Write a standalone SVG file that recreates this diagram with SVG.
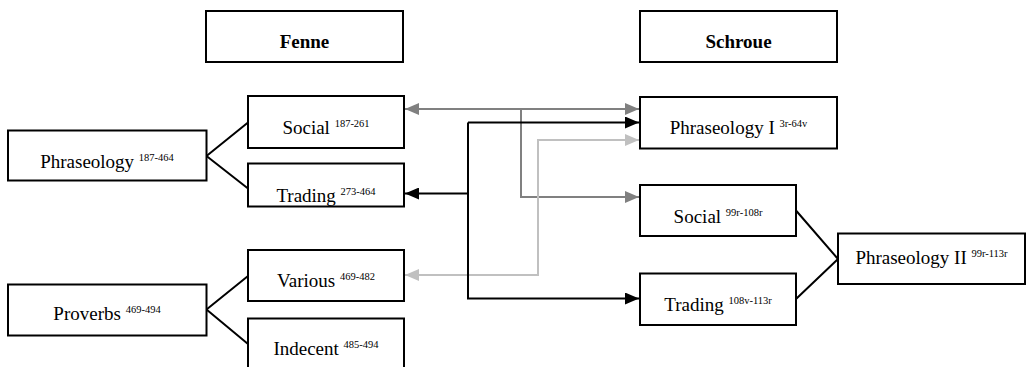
<svg xmlns="http://www.w3.org/2000/svg" width="1027" height="367" viewBox="0 0 1027 367">
<style>
.box{fill:#fff;stroke:#000;stroke-width:2}
.t{font-family:"Liberation Serif","Times New Roman",serif;font-size:19px;fill:#000;text-anchor:middle}
.h{font-family:"Liberation Serif","Times New Roman",serif;font-size:19px;font-weight:bold;fill:#000;text-anchor:middle}
.s{font-size:10.5px}
.ln{fill:none;stroke:#000;stroke-width:2}
.c{fill:none;stroke-width:2}
</style>
<defs>
<marker id="aB" markerUnits="userSpaceOnUse" markerWidth="14" markerHeight="12" refX="14" refY="6" orient="auto-start-reverse"><path d="M0,0 L14,6 L0,12 z" fill="#000"/></marker>
<marker id="aG" markerUnits="userSpaceOnUse" markerWidth="14" markerHeight="12" refX="14" refY="6" orient="auto-start-reverse"><path d="M0,0 L14,6 L0,12 z" fill="#808080"/></marker>
<marker id="aL" markerUnits="userSpaceOnUse" markerWidth="14" markerHeight="12" refX="14" refY="6" orient="auto-start-reverse"><path d="M0,0 L14,6 L0,12 z" fill="#c0c0c0"/></marker>
</defs>
<g id="connectors">
<path class="ln" d="M206.5,156 L248,122.5 M206.5,156 L248,188.5"/>
<path class="ln" d="M206.5,309.5 L248,276 M206.5,309.5 L248,344"/>
<path class="ln" d="M796,210.5 L838,259 M796,299 L838,259"/>
<path class="c" stroke="#808080" d="M405,109 H639" marker-start="url(#aG)" marker-end="url(#aG)"/>
<path class="c" stroke="#808080" d="M521,109 V197 H639" marker-end="url(#aG)"/>
<path class="c" stroke="#c0c0c0" d="M405,275 H538 V140 H639" marker-start="url(#aL)" marker-end="url(#aL)"/>
<path class="c" stroke="#000" d="M468,193.5 H405" marker-end="url(#aB)"/>
<path class="c" stroke="#000" d="M468,122.5 H639" marker-end="url(#aB)"/>
<path class="c" stroke="#000" d="M468,122.5 V298.5 H639" marker-end="url(#aB)"/>
</g>
<g id="fenne"><rect class="box" x="206" y="11" width="197" height="51"/><text class="h" x="304.5" y="47.5">Fenne</text></g>
<g id="schroue"><rect class="box" x="640" y="11" width="197" height="51"/><text class="h" x="738.5" y="47.5">Schroue</text></g>
<g id="phraseology"><rect class="box" x="8" y="130.5" width="198.5" height="50"/><text class="t" x="107" y="167.5">Phraseology <tspan class="s" dy="-7">187-464</tspan></text></g>
<g id="social-f"><rect class="box" x="248" y="96" width="156" height="52"/><text class="t" x="326" y="133.5">Social <tspan class="s" dy="-7">187-261</tspan></text></g>
<g id="trading-f"><rect class="box" x="248" y="163.5" width="156" height="43"/><text class="t" x="326" y="201.5">Trading <tspan class="s" dy="-7">273-464</tspan></text></g>
<g id="proverbs"><rect class="box" x="8" y="284.5" width="198.5" height="51"/><text class="t" x="107" y="320">Proverbs <tspan class="s" dy="-7">469-494</tspan></text></g>
<g id="various"><rect class="box" x="248" y="250" width="156" height="51"/><text class="t" x="326" y="287">Various <tspan class="s" dy="-7">469-482</tspan></text></g>
<g id="indecent"><rect class="box" x="248" y="318.5" width="156" height="60"/><text class="t" x="326" y="355">Indecent <tspan class="s" dy="-7">485-494</tspan></text></g>
<g id="phraseology-1"><rect class="box" x="640" y="97" width="197" height="51.5"/><text class="t" x="738.5" y="133.5">Phraseology I <tspan class="s" dy="-7">3r-64v</tspan></text></g>
<g id="social-s"><rect class="box" x="640" y="185" width="156" height="51"/><text class="t" x="718" y="223">Social <tspan class="s" dy="-7">99r-108r</tspan></text></g>
<g id="trading-s"><rect class="box" x="640" y="273.5" width="156" height="51.5"/><text class="t" x="718" y="311">Trading <tspan class="s" dy="-7">108v-113r</tspan></text></g>
<g id="phraseology-2"><rect class="box" x="838" y="233.5" width="187" height="50.5"/><text class="t" x="931.5" y="263.5">Phraseology II <tspan class="s" dy="-7">99r-113r</tspan></text></g>
</svg>
